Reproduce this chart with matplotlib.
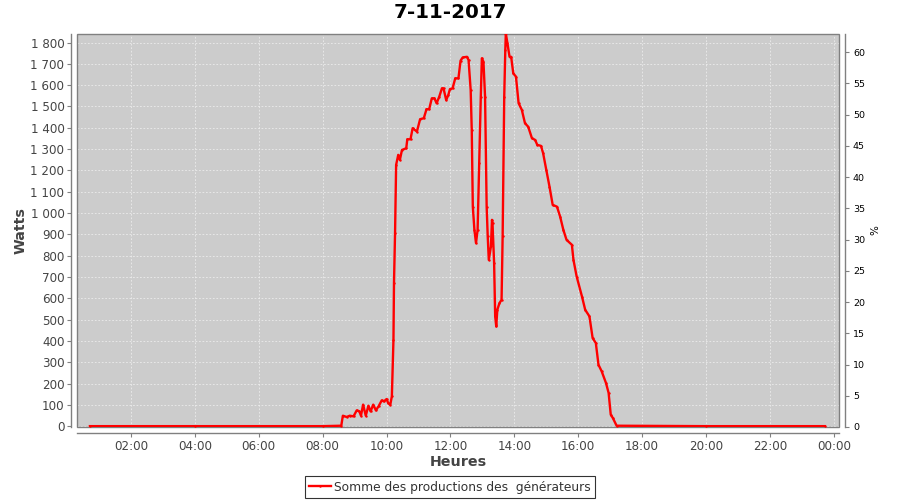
import matplotlib
matplotlib.use("Agg")
import matplotlib.pyplot as plt
from matplotlib.patches import Rectangle
from matplotlib.ticker import FuncFormatter, FixedLocator

title = "7-11-2017"
series_name = "Somme des productions des  générateurs"

times = ["00:43", "04:00", "08:00", "08:35", "08:38", "08:45", "08:51", "08:58", "09:04", "09:09",
         "09:12", "09:16", "09:21", "09:26", "09:30", "09:35", "09:40", "09:45", "09:51", "09:55",
         "10:00", "10:03", "10:07", "10:10", "10:13", "10:14", "10:16", "10:18", "10:22", "10:25",
         "10:29", "10:37", "10:39", "10:45", "10:49", "10:57", "11:03", "11:10", "11:15", "11:20",
         "11:25", "11:30", "11:34", "11:39", "11:44", "11:47", "11:52", "11:56", "11:59", "12:04",
         "12:09", "12:15", "12:19", "12:23", "12:31", "12:34", "12:38", "12:40", "12:42", "12:45",
         "12:48", "12:51", "12:54", "12:57", "12:59", "13:02", "13:05", "13:08", "13:10", "13:12",
         "13:16", "13:18", "13:19", "13:22", "13:24", "13:26", "13:28", "13:32", "13:36", "13:38",
         "13:41", "13:43", "13:44", "13:47", "13:51", "13:54", "13:58", "14:03", "14:08", "14:14",
         "14:20", "14:26", "14:33", "14:39", "14:43", "14:50", "14:54", "15:00", "15:06", "15:12",
         "15:20", "15:26", "15:32", "15:38", "15:48", "15:51", "15:57", "16:07", "16:13", "16:21",
         "16:27", "16:33", "16:38", "16:44", "16:52", "16:57", "17:01", "17:05", "17:12", "20:00",
         "23:43"]
watts = [0, 0, 0, 2, 49, 43, 49, 46, 74, 69,
         49, 101, 49, 96, 69, 101, 74, 93, 121, 116,
         127, 109, 100, 140, 405, 672, 906, 1226, 1273, 1249,
         1296, 1304, 1346, 1346, 1398, 1382, 1440, 1445, 1487, 1487,
         1538, 1538, 1515, 1546, 1585, 1585, 1530, 1554, 1581, 1585,
         1632, 1632, 1715, 1730, 1733, 1718, 1577, 1390, 1030, 921,
         859, 921, 1234, 1546, 1726, 1710, 1546, 1030, 890, 780,
         843, 968, 952, 765, 515, 468, 546, 577, 593, 890,
         1546, 1765, 1843, 1796, 1733, 1733, 1655, 1640, 1515, 1484,
         1421, 1405, 1351, 1343, 1320, 1315, 1281, 1202, 1124, 1038,
         1030, 983, 921, 874, 851, 780, 702, 608, 546, 515,
         413, 390, 288, 257, 203, 156, 54, 38, 2, 0,
         0]

x_ticks = [2, 4, 6, 8, 10, 12, 14, 16, 18, 20, 22, 24]
watt_ticks = list(range(0, 1801, 100))
pct_ticks = list(range(0, 61, 5))

hours = [int(t[:2]) + int(t[3:]) / 60 for t in times]

gray = "#808080"
txt = "#444444"

fig = plt.figure(figsize=(9, 5), dpi=100)
ax = fig.add_axes([77 / 900, 1 - 427 / 500, (839 - 77) / 900, (427 - 34) / 500])
ax.set_facecolor("#CCCCCC")
ax.add_patch(Rectangle((0, 0), 1, 1, transform=ax.transAxes, fill=False,
                       edgecolor=gray, lw=1.0, zorder=2, clip_on=False))
ax.plot(hours, watts, color="red", lw=1.7, marker=".", markersize=1.5,
        label=series_name, zorder=3, clip_on=True)

ax.set_xlim(0.313, 24.16)
ax.set_ylim(-4, 1840)
ax.xaxis.set_major_locator(FixedLocator(x_ticks))
ax.xaxis.set_major_formatter(FuncFormatter(lambda v, p: "%02d:00" % (int(round(v)) % 24)))
ax.yaxis.set_major_locator(FixedLocator(watt_ticks))
ax.yaxis.set_major_formatter(FuncFormatter(lambda v, p: "{:,}".format(int(v)).replace(",", " ")))
ax.grid(True, color="#F2F2F2", linestyle=(0, (2.5, 2.5)), linewidth=0.5, zorder=0)
ax.set_axisbelow(True)

for s in ["top", "right"]:
    ax.spines[s].set_visible(False)
for s in ["left", "bottom"]:
    ax.spines[s].set_position(("outward", 4))
    ax.spines[s].set_color(gray)
    ax.spines[s].set_linewidth(1.0)
ax.tick_params(axis="both", colors=gray, length=3, width=0.8, labelsize=8.6, labelcolor=txt)
ax.tick_params(axis="x", pad=2)
ax.tick_params(axis="y", pad=2)

ax.set_ylabel("Watts", fontsize=10.3, fontweight="bold", color=txt, labelpad=2)
ax.set_xlabel("Heures", fontsize=10.3, fontweight="bold", color=txt, labelpad=2)

ax2 = ax.twinx()
ax2.set_ylim(0, 62.9)
ax2.yaxis.set_major_locator(FixedLocator(pct_ticks))
for s in ["top", "left", "bottom"]:
    ax2.spines[s].set_visible(False)
ax2.spines["right"].set_position(("outward", 4))
ax2.spines["right"].set_color(gray)
ax2.spines["right"].set_linewidth(1.0)
ax2.tick_params(axis="y", colors=gray, length=3, width=0.8, labelsize=6.8, labelcolor="black", pad=3)
ax2.set_ylabel("%", fontsize=7.5, color="black", labelpad=4)

fig.suptitle(title, fontsize=14.3, fontweight="bold", y=1 - 13 / 500, va="center")

leg = fig.legend(loc="center", bbox_to_anchor=(0.5, 1 - 487 / 500), fontsize=8.8,
                 frameon=True, fancybox=False, handlelength=1.8, handletextpad=0.3,
                 borderpad=0.35, borderaxespad=0)
leg.get_frame().set_edgecolor("black")
leg.get_frame().set_linewidth(0.8)
for t in leg.get_texts():
    t.set_color("#333333")

fig.savefig("out.png", dpi=100)
